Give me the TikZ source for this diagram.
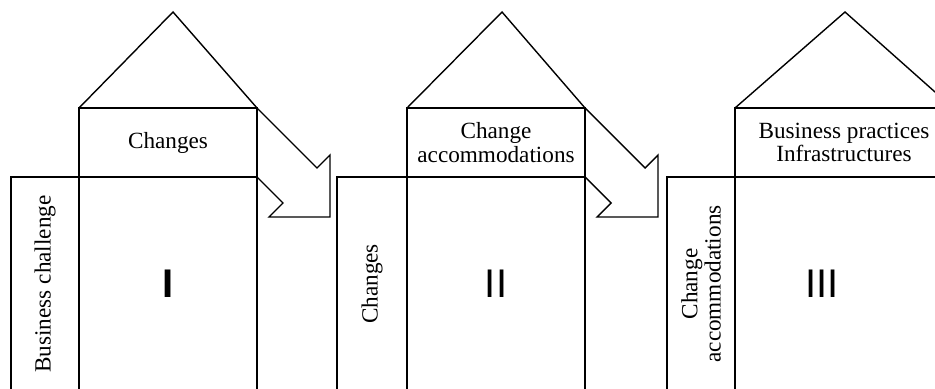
\documentclass[tikz,border=0pt]{standalone}
\usepackage{fontspec}
\setmainfont{Liberation Serif}
\newfontfamily\numfont{Liberation Sans}
\usetikzlibrary{positioning,calc}

\begin{document}
\begin{tikzpicture}[x=0.5pt,y=-0.5pt, every node/.style={align=center,font=\fontsize{11.6}{11.6}\selectfont,inner sep=0pt,outer sep=0pt},
  box/.style={draw,line width=0.75pt},
  side/.style={box,minimum width=34pt,minimum height=107pt},
  mainbox/.style={box,minimum height=107pt},
  topbox/.style={box,minimum height=34.5pt},
  numeral/.style={font=\numfont\fontsize{20}{20}\selectfont},
  roof/.style={line width=0.7pt,line join=miter}]
\useasboundingbox (0,0) rectangle (935,389);
\clip (0,0) rectangle (935,389);
% first house
\node[mainbox,minimum width=89pt] (main1) at (168,284) {};
\node[side,left=0pt of main1] (side1) {};
\node[topbox,minimum width=89pt,above=0pt of main1] (top1) {Changes};
\node[rotate=90] (lbl1) at (side1) {Business challenge};
\node[numeral,font=\numfont\bfseries\fontsize{20}{20}\selectfont] (num1) at (main1) {I};
\coordinate (apex1) at (173,12);
\draw[roof] (top1.north west) -- (apex1) -- (top1.north east) -- ++(60,60) -- ++(13,-13) -- ++(0,62) -- ++(-61,0) -- ++(14,-14) -- (main1.north east);
% second house
\node[mainbox,minimum width=89pt] (main2) at (496,284) {};
\node[side,minimum width=35pt,left=0pt of main2] (side2) {};
\node[topbox,minimum width=89pt,above=0pt of main2] (top2) {Change\\accommodations};
\node[rotate=90] (lbl2) at (side2) {Changes};
\node[numeral] (num2) at (main2) {II};
\coordinate (apex2) at (502,12);
\draw[roof] (top2.north west) -- (apex2) -- (top2.north east) -- ++(60,60) -- ++(13,-13) -- ++(0,62) -- ++(-61,0) -- ++(14,-14) -- (main2.north east);
% third house
\node[mainbox,minimum width=109pt] (main3) at (844,284) {};
\node[side,left=0pt of main3] (side3) {};
\node[topbox,minimum width=109pt,above=0pt of main3] (top3) {Business practices\\Infrastructures};
\node[rotate=90] (lbl3) at (side3) {Change\\accommodations};
\node[numeral] (num3) at ($(main3.center)+(-22,0)$) {III};
\coordinate (apex3) at (845,12);
\draw[roof] (top3.north west) -- (apex3) -- (top3.north east);
\end{tikzpicture}
\end{document}
